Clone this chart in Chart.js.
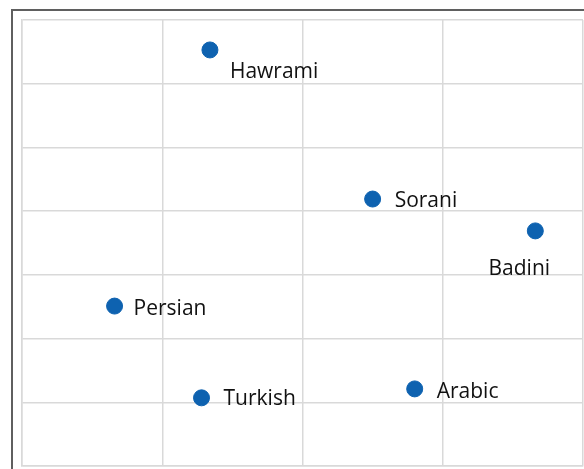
<!DOCTYPE html>
<html>
<head>
<meta charset="utf-8">
<script src="https://cdn.jsdelivr.net/npm/chart.js@4"></script>
<style>
  html, body { margin: 0; padding: 0; background: #fff; }
  #wrap { position: relative; width: 584px; height: 469px; overflow: hidden; }
  #frame { position: absolute; left: 11px; top: 9px; width: 620px; height: 520px; border: 2px solid #5f5f5f; box-sizing: border-box; }
  canvas { position: absolute; left: 0; top: 0; }
</style>
</head>
<body>
<div id="wrap">
  <div id="frame"></div>
  <canvas id="plot" width="584" height="469"></canvas>
</div>
<script>
var languages = ['Hawrami', 'Sorani', 'Badini', 'Persian', 'Turkish', 'Arabic'];
var xs = [1.34, 2.50, 3.66, 0.66, 1.28, 2.80];
var ys = [6.53, 4.19, 3.69, 2.51, 1.07, 1.21];

// where each label sits relative to its dot
var labelPlace = [
  { dx: 20, dy: 22, align: 'left' },
  { dx: 22, dy: 2, align: 'left' },
  { dx: -16, dy: 38, align: 'center' },
  { dx: 19, dy: 3, align: 'left' },
  { dx: 22, dy: 1, align: 'left' },
  { dx: 22, dy: 3, align: 'left' }
];

var points = xs.map(function (x, i) { return { x: x, y: ys[i] }; });

var pointLabels = {
  id: 'pointLabels',
  afterDatasetsDraw: function (chart) {
    var ctx = chart.ctx;
    var meta = chart.getDatasetMeta(0);
    ctx.save();
    ctx.font = '21px "Open Sans"';
    ctx.fillStyle = '#111';
    ctx.textBaseline = 'middle';
    meta.data.forEach(function (pt, i) {
      var p = labelPlace[i];
      ctx.textAlign = p.align;
      ctx.fillText(languages[i], pt.x + p.dx, pt.y + p.dy);
    });
    ctx.restore();
  }
};

var gridStyle = { color: '#d9d9d9', lineWidth: 1.5, drawTicks: false };
var borderStyle = { display: true, color: '#d9d9d9', width: 1.5 };

const ctx = document.getElementById('plot').getContext('2d');
var myChart = new Chart(ctx, {
  type: 'scatter',
  data: {
    datasets: [
      {
        label: 'languages',
        data: points,
        backgroundColor: '#0e62b0',
        borderColor: '#0e62b0',
        pointRadius: 8,
        pointHoverRadius: 8,
      }
    ]
  },
  options: {
    animation: false,
    responsive: false,
    layout: { autoPadding: false, padding: { left: 22, top: 20, right: 1, bottom: 3 } },
    scales: {
      x: {
        type: 'linear',
        min: 0,
        max: 4,
        ticks: { display: false, stepSize: 1 },
        grid: gridStyle,
        border: borderStyle,
      },
      y: {
        type: 'linear',
        min: 0,
        max: 7,
        ticks: { display: false, stepSize: 1 },
        grid: gridStyle,
        border: borderStyle,
      }
    },
    plugins: {
      legend: { display: false },
      tooltip: { enabled: false }
    }
  },
  plugins: [pointLabels]
});
</script>
</body>
</html>
